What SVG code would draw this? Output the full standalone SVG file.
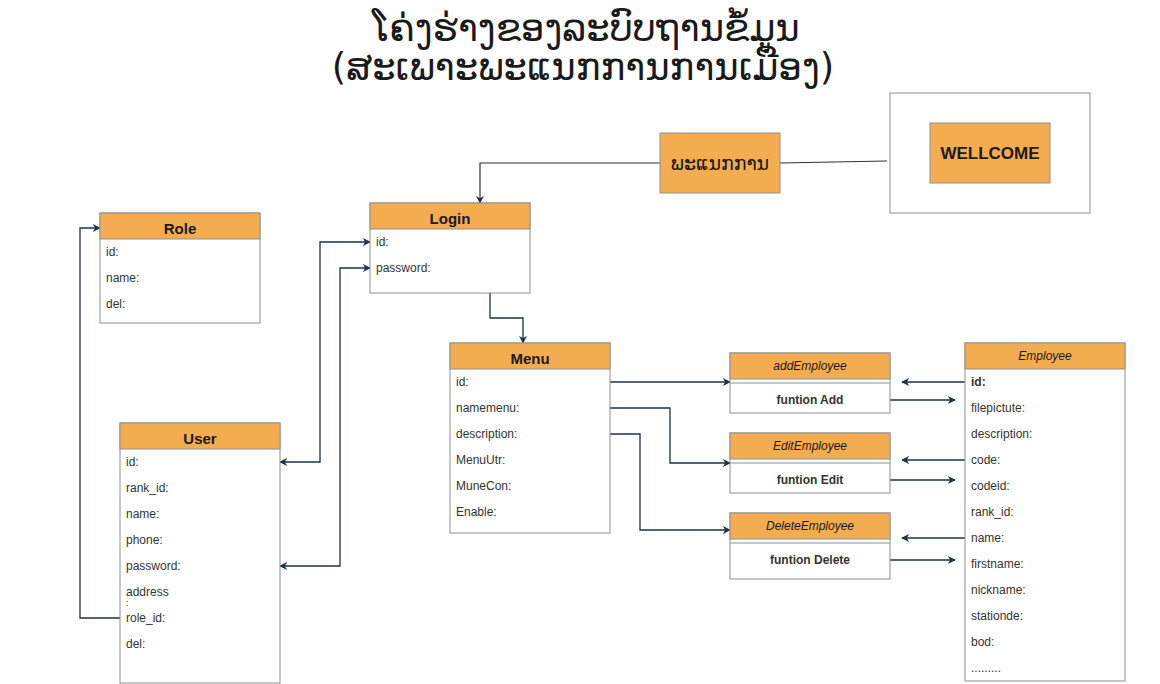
<svg xmlns="http://www.w3.org/2000/svg" width="1160" height="684" viewBox="0 0 1160 684">
<defs>
<style>
.box{fill:#ffffff;stroke:#909090;stroke-width:1}
.hdr{fill:#F4AC50;stroke:#909090;stroke-width:1}
.t{font-family:"Liberation Sans",Arial,sans-serif;font-size:12px;fill:#333333;dominant-baseline:central}
.h{font-family:"Liberation Sans",Arial,sans-serif;font-size:15px;font-weight:bold;fill:#1a1a1a;text-anchor:middle;dominant-baseline:central}
.hi{font-family:"Liberation Sans",Arial,sans-serif;font-size:12px;font-style:italic;fill:#1a1a1a;text-anchor:middle;dominant-baseline:central}
.fb{font-family:"Liberation Sans",Arial,sans-serif;font-size:12px;font-weight:bold;fill:#333333;text-anchor:middle;dominant-baseline:central}
.lao{font-family:"DejaVu Sans","Noto Sans Lao",sans-serif;fill:#1a1a1a;text-anchor:middle}
.c{fill:none;stroke:#1E3148;stroke-width:1.3}
.cg{fill:none;stroke:#333333;stroke-width:1.2}
</style>
<marker id="a" viewBox="0 0 10 10" refX="9" refY="5" markerWidth="8" markerHeight="8" markerUnits="userSpaceOnUse" orient="auto-start-reverse">
<path d="M0,0 L10,5 L0,10 L3,5 Z" fill="#1E3148"/>
</marker>
</defs>

<g id="title">
<text class="lao" x="586" y="41" font-size="37">ໂຄ່ງຮ່າງຂອງລະບົບຖານຂໍ້ມູນ</text>
<text class="lao" x="583" y="80" font-size="37">(ສະເພາະພະແນກການການເມືອງ)</text>
</g>

<g id="connectors">
<polyline class="cg" points="660,163 480,163 480,203" marker-end="url(#a)"/>
<line class="cg" x1="780" y1="163" x2="887" y2="161"/>
<polyline class="c" points="490,293 490,318 523,318 523,343" marker-end="url(#a)"/>
<polyline class="c" points="280,462 320,462 320,242 370,242" marker-start="url(#a)" marker-end="url(#a)"/>
<polyline class="c" points="280,566 340,566 340,268 370,268" marker-start="url(#a)" marker-end="url(#a)"/>
<polyline class="c" points="120,618 80,618 80,228 100,228" marker-end="url(#a)"/>
<polyline class="c" points="610,382 730,382" marker-end="url(#a)"/>
<polyline class="c" points="610,408 670,408 670,463 730,463" marker-end="url(#a)"/>
<polyline class="c" points="610,434 640,434 640,530 730,530" marker-end="url(#a)"/>
<line class="c" x1="965" y1="382" x2="902" y2="382" marker-end="url(#a)"/>
<line class="c" x1="965" y1="460" x2="902" y2="460" marker-end="url(#a)"/>
<line class="c" x1="965" y1="538" x2="902" y2="538" marker-end="url(#a)"/>
<line class="c" x1="890" y1="400" x2="955" y2="400" marker-end="url(#a)"/>
<line class="c" x1="890" y1="480" x2="955" y2="480" marker-end="url(#a)"/>
<line class="c" x1="890" y1="560" x2="955" y2="560" marker-end="url(#a)"/>
</g>

<g id="department">
<rect class="hdr" x="660" y="133" width="120" height="60"/>
<text class="lao" x="720" y="170" font-size="19">ພະແນກການ</text>
</g>

<g id="wellcome">
<rect class="box" x="890" y="93" width="200" height="120"/>
<rect class="hdr" x="930" y="123" width="120" height="60"/>
<text class="h" x="990" y="153" style="font-size:17px">WELLCOME</text>
</g>

<g id="role">
<rect class="box" x="100" y="213" width="160" height="110"/>
<rect class="hdr" x="100" y="213" width="160" height="26"/>
<text class="h" x="180" y="228">Role</text>
<text class="t" x="106" y="252">id:</text>
<text class="t" x="106" y="278">name:</text>
<text class="t" x="106" y="304">del:</text>
</g>

<g id="login">
<rect class="box" x="370" y="203" width="160" height="90"/>
<rect class="hdr" x="370" y="203" width="160" height="26"/>
<text class="h" x="450" y="218">Login</text>
<text class="t" x="376" y="242">id:</text>
<text class="t" x="376" y="268">password:</text>
</g>

<g id="user">
<rect class="box" x="120" y="423" width="160" height="260"/>
<rect class="hdr" x="120" y="423" width="160" height="26"/>
<text class="h" x="200" y="438">User</text>
<text class="t" x="126" y="462">id:</text>
<text class="t" x="126" y="488">rank_id:</text>
<text class="t" x="126" y="514">name:</text>
<text class="t" x="126" y="540">phone:</text>
<text class="t" x="126" y="566">password:</text>
<text class="t" x="126" y="592">address</text>
<text class="t" x="126" y="603" style="font-size:9px">:</text>
<text class="t" x="126" y="618">role_id:</text>
<text class="t" x="126" y="644">del:</text>
</g>

<g id="menu">
<rect class="box" x="450" y="343" width="160" height="190"/>
<rect class="hdr" x="450" y="343" width="160" height="26"/>
<text class="h" x="530" y="358">Menu</text>
<text class="t" x="456" y="382">id:</text>
<text class="t" x="456" y="408">namemenu:</text>
<text class="t" x="456" y="434">description:</text>
<text class="t" x="456" y="460">MenuUtr:</text>
<text class="t" x="456" y="486">MuneCon:</text>
<text class="t" x="456" y="512">Enable:</text>
</g>

<g id="addEmployee">
<rect class="box" x="730" y="353" width="160" height="60"/>
<rect class="hdr" x="730" y="353" width="160" height="26"/>
<line x1="730" y1="383" x2="890" y2="383" stroke="#909090"/>
<text class="hi" x="810" y="366">addEmployee</text>
<text class="fb" x="810" y="400">funtion Add</text>
</g>

<g id="editEmployee">
<rect class="box" x="730" y="433" width="160" height="60"/>
<rect class="hdr" x="730" y="433" width="160" height="26"/>
<line x1="730" y1="463" x2="890" y2="463" stroke="#909090"/>
<text class="hi" x="810" y="446">EditEmployee</text>
<text class="fb" x="810" y="480">funtion Edit</text>
</g>

<g id="deleteEmployee">
<rect class="box" x="730" y="513" width="160" height="66"/>
<rect class="hdr" x="730" y="513" width="160" height="26"/>
<line x1="730" y1="543" x2="890" y2="543" stroke="#909090"/>
<text class="hi" x="810" y="526">DeleteEmployee</text>
<text class="fb" x="810" y="560">funtion Delete</text>
</g>

<g id="employee">
<rect class="box" x="965" y="343" width="160" height="338"/>
<rect class="hdr" x="965" y="343" width="160" height="26"/>
<text class="hi" x="1045" y="356">Employee</text>
<text class="t" x="971" y="382" font-weight="bold">id:</text>
<text class="t" x="971" y="408">filepictute:</text>
<text class="t" x="971" y="434">description:</text>
<text class="t" x="971" y="460">code:</text>
<text class="t" x="971" y="486">codeid:</text>
<text class="t" x="971" y="512">rank_id:</text>
<text class="t" x="971" y="538">name:</text>
<text class="t" x="971" y="564">firstname:</text>
<text class="t" x="971" y="590">nickname:</text>
<text class="t" x="971" y="616">stationde:</text>
<text class="t" x="971" y="642">bod:</text>
<text class="t" x="971" y="668">.........</text>
</g>
</svg>
